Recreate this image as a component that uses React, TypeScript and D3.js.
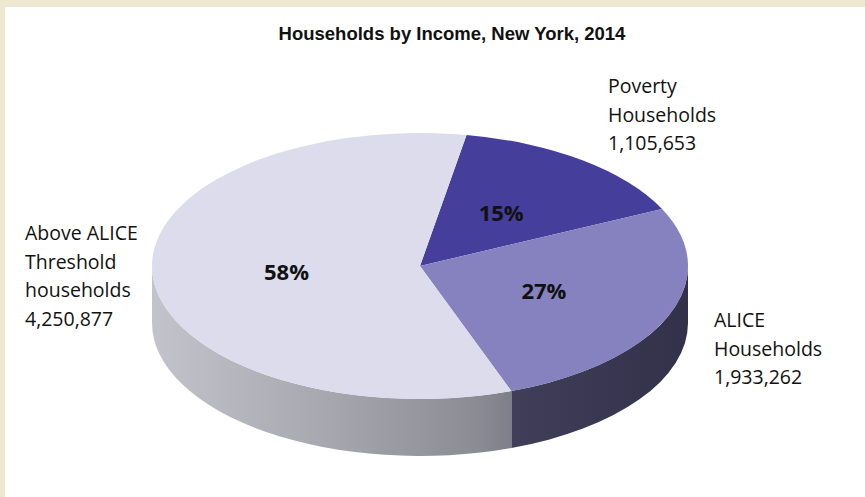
import React from "react";
import * as d3 from "d3";

const title = "Households by Income, New York, 2014";
const categories = ["Poverty Households", "ALICE Households", "Above ALICE Threshold households"];
const values = [1105653, 1933262, 4250877];
const percentLabels = ["15%", "27%", "58%"];
const outerLabelLines = [
  ["Poverty", "Households", "1,105,653"],
  ["ALICE", "Households", "1,933,262"],
  ["Above ALICE", "Threshold", "households", "4,250,877"],
];
const topColors = ["#453e9b", "#8682c0", "#dcdcec"];
const sideFills = ["#2d2a6a", "url(#gAlice)", "url(#gAbove)"];

const W = 865;
const H = 497;
const cx = 420;
const cy = 266;
const rx = 268;
const ry = 133;
const depth = 57;
const rotation = (10 * Math.PI) / 180;

const pt = (a: number, dy = 0): [number, number] => [cx + rx * Math.sin(a), cy - ry * Math.cos(a) + dy];

export default function App() {
  const pie = d3
    .pie<number>()
    .sort(null)
    .startAngle(rotation)
    .endAngle(rotation + 2 * Math.PI);
  const arcs = pie(values);

  const topPath = (a0: number, a1: number) => {
    const [x0, y0] = pt(a0);
    const [x1, y1] = pt(a1);
    const large = a1 - a0 > Math.PI ? 1 : 0;
    return `M${cx},${cy}L${x0},${y0}A${rx},${ry} 0 ${large} 1 ${x1},${y1}Z`;
  };

  const sidePath = (a0: number, a1: number) => {
    const s0 = Math.max(a0, Math.PI / 2);
    const s1 = Math.min(a1, (3 * Math.PI) / 2);
    if (s1 <= s0) return null;
    const [x0, y0] = pt(s0);
    const [x1, y1] = pt(s1);
    const [bx0, by0] = pt(s0, depth);
    const [bx1, by1] = pt(s1, depth);
    return `M${x0},${y0}A${rx},${ry} 0 0 1 ${x1},${y1}L${bx1},${by1}A${rx},${ry} 0 0 0 ${bx0},${by0}Z`;
  };

  const outerPos = [
    { x: 608, y: 93 },
    { x: 714, y: 327 },
    { x: 25, y: 240 },
  ];
  const lineH = 28.5;

  return (
    <svg
      width={W}
      height={H}
      style={{ position: "absolute", left: 0, top: 0, display: "block" }}
    >
      <defs>
        <linearGradient id="gAbove" gradientUnits="userSpaceOnUse" x1={152} y1={0} x2={512} y2={0}>
          <stop offset="0" stopColor="#c3c3cb" />
          <stop offset="0.45" stopColor="#a9a9b2" />
          <stop offset="0.9" stopColor="#8c8c95" />
          <stop offset="1" stopColor="#7e7e88" />
        </linearGradient>
        <linearGradient id="gAlice" gradientUnits="userSpaceOnUse" x1={510} y1={0} x2={690} y2={0}>
          <stop offset="0" stopColor="#403e58" />
          <stop offset="1" stopColor="#33314a" />
        </linearGradient>
      </defs>
      <rect x={0} y={0} width={W} height={H} fill="#eee8d3" />
      <rect x={5} y={7} width={W - 5} height={H - 7} fill="#ffffff" />
      <text
        x={452}
        y={40}
        textAnchor="middle"
        fontFamily="'Liberation Sans', Arial, sans-serif"
        fontWeight="bold"
        fontSize={18.5}
        fill="#111"
      >
        {title}
      </text>
      {arcs.map((a, i) => {
        const d = sidePath(a.startAngle, a.endAngle);
        return d ? <path key={"s" + i} d={d} fill={sideFills[i]} /> : null;
      })}
      {arcs.map((a, i) => (
        <path key={"t" + i} d={topPath(a.startAngle, a.endAngle)} fill={topColors[i]} />
      ))}
      {arcs.map((a, i) => {
        const mid = (a.startAngle + a.endAngle) / 2;
        const x = cx + 0.5 * rx * Math.sin(mid);
        const y = cy - 0.5 * ry * Math.cos(mid);
        return (
          <text
            key={"p" + i}
            x={x}
            y={y + 8}
            textAnchor="middle"
            fontFamily="'Open Sans', sans-serif"
            fontWeight="bold"
            fontSize={22}
            fill="#111"
          >
            {percentLabels[i]}
          </text>
        );
      })}
      {outerLabelLines.map((lines, i) => (
        <text
          key={"o" + i}
          fontFamily="'Open Sans', sans-serif"
          fontSize={19.5}
          fill="#111"
        >
          {lines.map((ln, j) => (
            <tspan key={j} x={outerPos[i].x} y={outerPos[i].y + j * lineH}>
              {ln}
            </tspan>
          ))}
        </text>
      ))}
      <title>{categories.join(", ")}</title>
    </svg>
  );
}
